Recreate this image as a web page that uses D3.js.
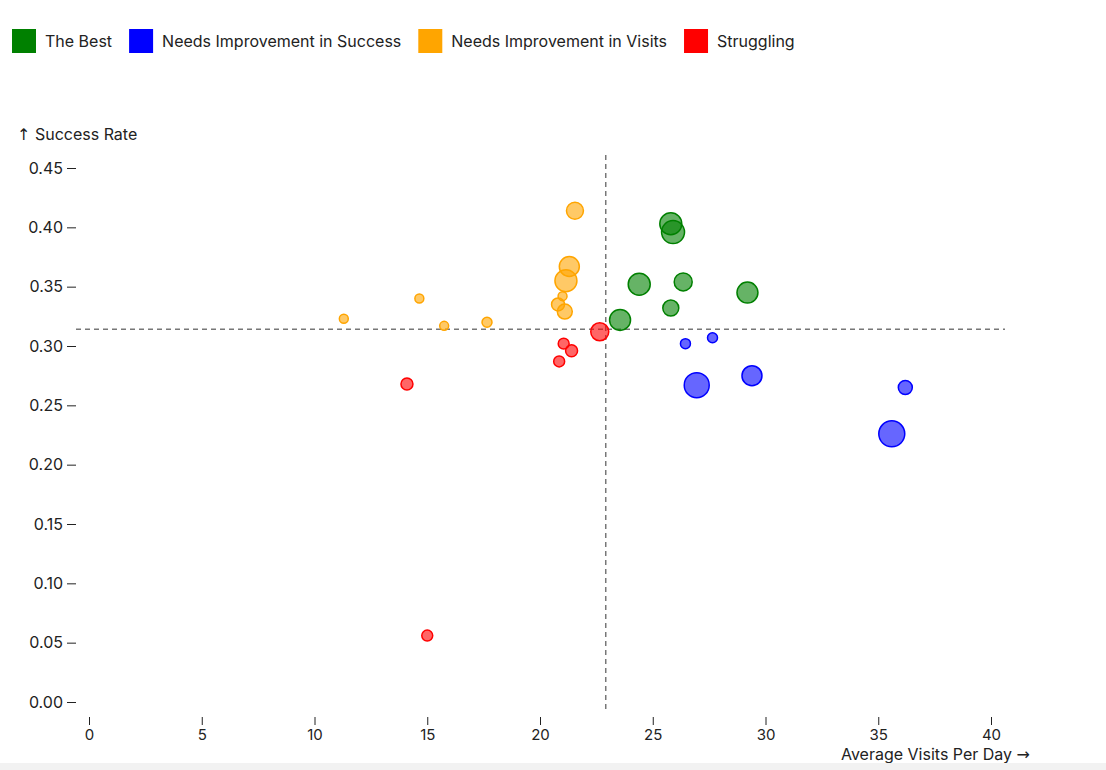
<!DOCTYPE html>
<html>
<head>
<meta charset="utf-8">
<script src="https://cdn.jsdelivr.net/npm/d3@7"></script>
<style>
  html, body { margin: 0; padding: 0; background: #f2f2f2; }
  svg { display: block; background: #fff; font-family: Inter, "Noto Sans", sans-serif; }
</style>
</head>
<body>
<div id="wrapper"></div>
<script>
// categories and their colours
const categories = ["The Best", "Needs Improvement in Success", "Needs Improvement in Visits", "Struggling"];
const categoryColors = ["green", "blue", "orange", "red"];

// one entry per point: group index, visits/day, success rate, volume (bubble size)
const pointGroup = [0, 0, 0, 0, 0, 0, 0,
                    1, 1, 1, 1, 1, 1,
                    2, 2, 2, 2, 2, 2, 2, 2, 2, 2,
                    3, 3, 3, 3, 3, 3];
const visitsPerDay = [25.8, 25.9, 24.4, 26.35, 25.8, 29.2, 23.55,
                      26.45, 27.65, 26.95, 29.4, 36.2, 35.6,
                      21.55, 21.3, 21.15, 21.0, 20.8, 21.1, 17.65, 15.75, 14.65, 11.3,
                      22.65, 21.05, 21.4, 20.85, 14.1, 15.0];
const successRate = [0.403, 0.396, 0.352, 0.354, 0.332, 0.345, 0.322,
                     0.302, 0.307, 0.267, 0.275, 0.265, 0.226,
                     0.414, 0.367, 0.355, 0.342, 0.335, 0.329, 0.320, 0.317, 0.340, 0.323,
                     0.312, 0.302, 0.296, 0.287, 0.268, 0.056];
const volume = [121, 132, 121, 81, 64, 110, 110,
                25, 25, 156, 100, 49, 169,
                72, 100, 121, 20, 42, 56, 25, 20, 20, 20,
                81, 30, 36, 30, 36, 30];

const xTicks = [0, 5, 10, 15, 20, 25, 30, 35, 40];
const yTicks = [0, 0.05, 0.10, 0.15, 0.20, 0.25, 0.30, 0.35, 0.40, 0.45];

const dataset = pointGroup.map((g, i) => ({
  group: g,
  visits: visitsPerDay[i],
  rate: successRate[i],
  volume: volume[i],
}));

const xAccessor = d => d.visits;
const yAccessor = d => d.rate;

const fontStack = "Inter, 'Noto Sans', sans-serif";
const dimensions = { width: 1106, height: 763 };

const svg = d3.select("#wrapper")
  .append("svg")
  .attr("width", dimensions.width)
  .attr("height", dimensions.height);

// scales
const xScale = d3.scaleLinear().domain([0, 40]).range([89, 991]);
const yScale = d3.scaleLinear().domain([0, 0.45]).range([702, 168]);
const rScale = d3.scaleSqrt().domain([0, d3.max(dataset, d => d.volume)]).range([0, 13]);
const color = d3.scaleOrdinal().domain(d3.range(categories.length)).range(categoryColors);

// legend
const legend = svg.append("g").attr("transform", "translate(12, 29)");
let lx = 0;
categories.forEach((c, i) => {
  const item = legend.append("g").attr("transform", `translate(${lx}, 0)`);
  item.append("rect").attr("width", 24).attr("height", 24).attr("fill", categoryColors[i]);
  const t = item.append("text")
    .attr("x", 33).attr("y", 18)
    .attr("font-size", 16).attr("fill", "#222")
    .text(c);
  lx += 33 + t.node().getComputedTextLength() + 17;
});

// axes
const yAxis = svg.append("g")
  .attr("transform", "translate(76, 0)")
  .call(d3.axisLeft(yScale).tickValues(yTicks).tickFormat(d3.format(".2f")).tickSize(9).tickPadding(4))
  .call(g => g.select(".domain").remove());
yAxis.selectAll("text").attr("font-size", 16).attr("font-family", fontStack).attr("fill", "#222");
yAxis.selectAll("line").attr("stroke", "#222");
const yTitle = yAxis.append("text")
  .attr("x", -59).attr("y", 140)
  .attr("fill", "#222").attr("text-anchor", "start")
  .attr("font-size", 16).attr("font-family", fontStack);
yTitle.append("tspan").attr("font-family", "'DejaVu Sans', sans-serif").text("↑");
yTitle.append("tspan").text(" Success Rate");

const xAxis = svg.append("g")
  .attr("transform", "translate(0, 717)")
  .call(d3.axisBottom(xScale).tickValues(xTicks).tickSize(8).tickPadding(4))
  .call(g => g.select(".domain").remove());
xAxis.selectAll("text").attr("font-size", 15).attr("font-family", fontStack).attr("fill", "#222");
xAxis.selectAll("line").attr("stroke", "#222");
const xTitle = xAxis.append("text")
  .attr("x", 1030).attr("y", 43)
  .attr("fill", "#222").attr("text-anchor", "end")
  .attr("font-size", 16).attr("font-family", fontStack);
xTitle.append("tspan").text("Average Visits Per Day ");
xTitle.append("tspan").attr("font-family", "'DejaVu Sans', sans-serif").text("→");

// mean reference lines
const meanX = d3.mean(dataset, xAccessor);
const meanY = d3.mean(dataset, yAccessor);
svg.append("line")
  .attr("x1", xScale(meanX)).attr("x2", xScale(meanX))
  .attr("y1", 155).attr("y2", 713)
  .attr("stroke", "#777").attr("stroke-width", 1.5).attr("stroke-dasharray", "5,4");
svg.append("line")
  .attr("x1", 76).attr("x2", 1005)
  .attr("y1", yScale(meanY)).attr("y2", yScale(meanY))
  .attr("stroke", "#777").attr("stroke-width", 1.5).attr("stroke-dasharray", "5,4");

// points
svg.append("g")
  .selectAll("circle")
  .data(dataset)
  .join("circle")
  .attr("cx", d => xScale(xAccessor(d)))
  .attr("cy", d => yScale(yAccessor(d)))
  .attr("r", d => rScale(d.volume))
  .attr("fill", d => color(d.group))
  .attr("fill-opacity", 0.6)
  .attr("stroke", d => color(d.group))
  .attr("stroke-width", 1.5);
</script>
</body>
</html>
